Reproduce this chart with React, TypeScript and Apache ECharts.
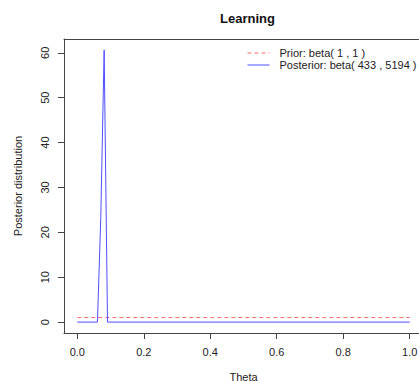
import React, { useEffect, useRef } from "react";
import * as echarts from "echarts";

// Data
const priorTheta = [0, 1];
const priorDensity = [1, 1];
const postTheta = [0, 0.0606, 0.0707, 0.0808, 0.0909, 1];
const postDensity = [0, 0, 23.5, 60.65, 0, 0];
const xTicks = [0, 0.2, 0.4, 0.6, 0.8, 1.0];
const yTicks = [0, 10, 20, 30, 40, 50, 60];
const legendNames = ["Prior: beta( 1 , 1 )", "Posterior: beta( 433 , 5194 )"];

const FONT = "'Liberation Sans', Arial, sans-serif";
const AXIS_COLOR = "#444";
const TEXT_COLOR = "#222";
const PRIOR_COLOR = "#ff6b6b";
const POST_COLOR = "#4f4fff";

export default function App() {
  const ref = useRef<HTMLDivElement>(null);
  useEffect(() => {
    document.body.style.margin = "0";
    const chart = echarts.init(ref.current!, undefined, { renderer: "svg" });
    chart.setOption({
      animation: false,
      backgroundColor: "#ffffff",
      title: {
        text: "Learning",
        left: 215,
        top: 7,
        textStyle: { fontFamily: FONT, fontSize: 13, fontWeight: "bold", color: "#111" },
      },
      legend: {
        orient: "vertical",
        left: 242,
        top: 42,
        itemWidth: 22,
        itemHeight: 8,
        itemGap: 0,
        itemStyle: { opacity: 0 },
        lineStyle: { width: 1 },
        textStyle: { fontFamily: FONT, fontSize: 11, lineHeight: 12, color: TEXT_COLOR, padding: [0, 0, 0, 5] },
        data: legendNames,
      },
      grid: {
        left: 64,
        top: 39,
        width: 359,
        height: 294,
        show: false,
        containLabel: false,
        outerBoundsMode: "none",
      },
      xAxis: [
        {
          type: "value",
          position: "bottom",
          min: -0.04,
          max: 1.04,
          name: "Theta",
          nameLocation: "middle",
          nameGap: 38,
          nameTextStyle: { fontFamily: FONT, fontSize: 11, color: TEXT_COLOR },
          axisLine: { show: true, onZero: false, lineStyle: { color: AXIS_COLOR, width: 1 } },
          splitLine: { show: false },
          axisTick: { show: true, length: 6, customValues: xTicks, lineStyle: { color: AXIS_COLOR } },
          axisLabel: {
            customValues: xTicks,
            margin: 13,
            fontFamily: FONT,
            fontSize: 11,
            color: TEXT_COLOR,
            formatter: (v: number) => v.toFixed(1),
          },
        },
        {
          type: "value",
          position: "top",
          min: -0.04,
          max: 1.04,
          axisLine: { show: true, onZero: false, lineStyle: { color: AXIS_COLOR, width: 1 } },
          axisTick: { show: false },
          axisLabel: { show: false },
          splitLine: { show: false },
        },
      ],
      yAxis: {
        type: "value",
        min: -2.43,
        max: 63.07,
        name: "Posterior distribution",
        nameLocation: "middle",
        nameRotate: 90,
        nameGap: 41,
        nameTextStyle: { fontFamily: FONT, fontSize: 11, color: TEXT_COLOR },
        axisLine: { show: true, onZero: false, lineStyle: { color: AXIS_COLOR, width: 1 } },
        splitLine: { show: false },
        axisTick: { show: true, length: 6, customValues: yTicks, lineStyle: { color: AXIS_COLOR } },
        axisLabel: {
          customValues: yTicks,
          rotate: 90,
          margin: 14,
          fontFamily: FONT,
          fontSize: 11,
          color: TEXT_COLOR,
        },
      },
      series: [
        {
          name: legendNames[0],
          type: "line",
          data: priorTheta.map((t, i) => [t, priorDensity[i]]),
          symbol: "none",
          lineStyle: { color: PRIOR_COLOR, width: 1, type: [4, 3] },
          itemStyle: { color: PRIOR_COLOR },
        },
        {
          name: legendNames[1],
          type: "line",
          data: postTheta.map((t, i) => [t, postDensity[i]]),
          symbol: "none",
          lineStyle: { color: POST_COLOR, width: 1 },
          itemStyle: { color: POST_COLOR },
        },
      ],
    });
    return () => chart.dispose();
  }, []);
  return <div ref={ref} style={{ width: 419, height: 381 }} />;
}
